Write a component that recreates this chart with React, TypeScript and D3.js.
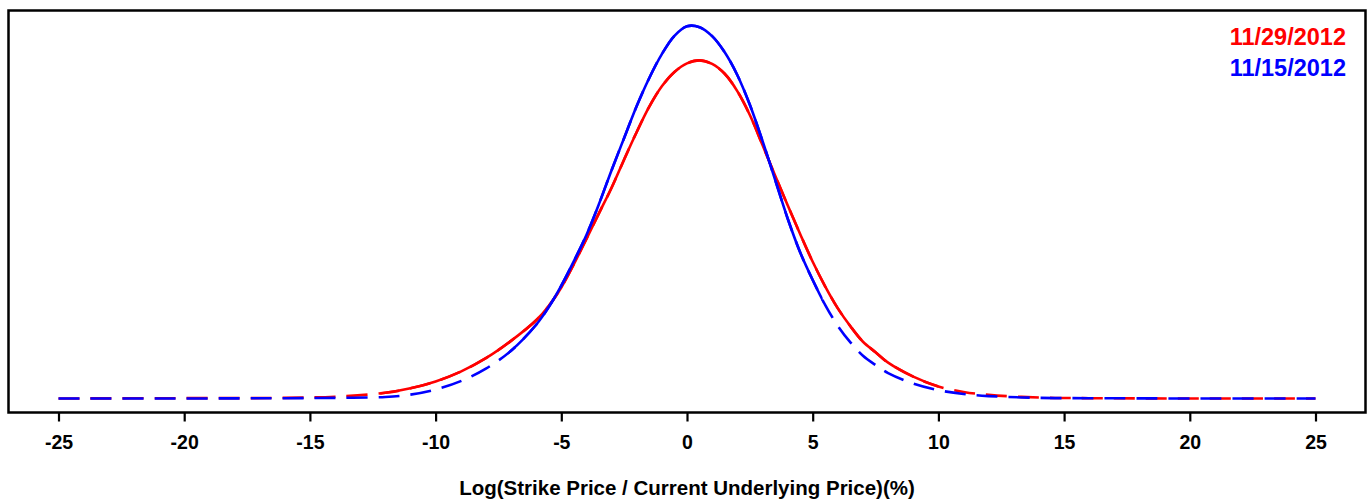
import React, { useEffect, useRef } from 'react';
import * as d3 from 'd3';

// x grid (log moneyness, %)
const xs = [-25, -20, -16, -14, -12, -11, -10, -9, -8, -7, -6, -5.5, -5, -4.5, -4, -3.5, -3, -2.5, -2, -1.5, -1, -0.5,
  0, 0.5, 1, 1.5, 2, 2.5, 3, 3.5, 4, 4.5, 5, 5.5, 6, 6.5, 7, 7.5, 8, 9, 10, 11, 12, 14, 16, 20, 25];

// implied densities
const density1129 = [0, 0.0001, 0.0002, 0.0006, 0.0019, 0.0034, 0.0057, 0.0090, 0.0135, 0.0193, 0.0262, 0.0310,
  0.0372, 0.0450, 0.0535, 0.0621, 0.0706, 0.0801, 0.0893, 0.0978, 0.1046, 0.1094,
  0.1123, 0.1133, 0.1121, 0.1088, 0.1030, 0.0950, 0.0850, 0.0748, 0.0648, 0.0551, 0.0458, 0.0375, 0.0302,
  0.0242, 0.0190, 0.0155, 0.0120, 0.0073, 0.0040, 0.0022, 0.0012, 0.0003, 0.0001, 0, 0];
const density1115 = [0, 0, 0.0001, 0.0002, 0.0005, 0.0013, 0.0030, 0.0058, 0.0100, 0.0160, 0.0247, 0.0306,
  0.0378, 0.0460, 0.0548, 0.0652, 0.0765, 0.0873, 0.0980, 0.1074, 0.1154, 0.1215,
  0.1247, 0.1244, 0.1214, 0.1160, 0.1084, 0.0984, 0.0864, 0.0734, 0.0604, 0.0490, 0.0397, 0.0313, 0.0243,
  0.0188, 0.0143, 0.0112, 0.0085, 0.0050, 0.0028, 0.0015, 0.0008, 0.0002, 0.0001, 0, 0];

// range covered by quoted strikes (solid), outside is extrapolated (dashed)
const solidRange1129 = [-12.2, 10.0];
const solidRange1115 = [-7.1, 5.4];

const seriesNames = ['11/29/2012', '11/15/2012'];
const seriesColors = ['#ff0000', '#0000ff'];
const xTicks = [-25, -20, -15, -10, -5, 0, 5, 10, 15, 20, 25];
const xTitle = 'Log(Strike Price / Current Underlying Price)(%)';

function App() {
  return (
    <div>
      <DensityChart />
    </div>
  );
}

function DensityChart() {
  const ref = useRef<HTMLDivElement>(null);

  useEffect(() => {
    if (!ref.current) return;
    const width = 1370;
    const height = 501;
    const frame = { left: 8.5, right: 1365.5, top: 10.5, bottom: 412.5 };
    const font = '"Liberation Sans", Arial, sans-serif';

    d3.select(ref.current).select('svg').remove();

    const svg = d3.select(ref.current)
      .append('svg')
      .attr('width', width)
      .attr('height', height)
      .style('position', 'absolute')
      .style('left', 0)
      .style('top', 0)
      .style('background', '#fff');

    const x = d3.scaleLinear().domain([-25, 25]).range([frame.left + 50, frame.right - 50]);
    const y = d3.scaleLinear().domain([-0.0047, 0.130]).range([frame.bottom, frame.top]);

    const series = [
      { name: seriesNames[0], color: seriesColors[0], values: density1129, solid: solidRange1129 },
      { name: seriesNames[1], color: seriesColors[1], values: density1115, solid: solidRange1115 },
    ];

    const line = d3.line<number>()
      .x((_, i) => x(xs[i]))
      .y(d => y(d))
      .curve(d3.curveCatmullRom.alpha(0.5));

    const defs = svg.append('defs');
    series.forEach((s, k) => {
      defs.append('clipPath')
        .attr('id', `solid-${k}`)
        .append('rect')
        .attr('x', x(s.solid[0]))
        .attr('y', 0)
        .attr('width', x(s.solid[1]) - x(s.solid[0]))
        .attr('height', height);
    });

    series.forEach((s, k) => {
      // dashed full curve
      svg.append('path')
        .attr('d', line(s.values))
        .attr('fill', 'none')
        .attr('stroke', s.color)
        .attr('stroke-width', 2.6)
        .attr('stroke-dasharray', '21,11');
      // solid part over the strike range
      svg.append('path')
        .attr('d', line(s.values))
        .attr('fill', 'none')
        .attr('stroke', s.color)
        .attr('stroke-width', 2.6)
        .attr('clip-path', `url(#solid-${k})`);
    });

    // frame
    svg.append('rect')
      .attr('x', frame.left)
      .attr('y', frame.top)
      .attr('width', frame.right - frame.left)
      .attr('height', frame.bottom - frame.top)
      .attr('fill', 'none')
      .attr('stroke', '#000')
      .attr('stroke-width', 2.5);

    // x axis
    const ax = svg.append('g')
      .attr('transform', `translate(0,${frame.bottom})`)
      .call(d3.axisBottom(x).tickValues(xTicks).tickSize(9).tickSizeOuter(0).tickPadding(14)
        .tickFormat(d => String(d)));
    ax.select('.domain').remove();
    ax.selectAll('line').attr('stroke', '#000').attr('stroke-width', 2.2);
    ax.selectAll('text')
      .attr('fill', '#000')
      .style('font-family', font)
      .style('font-weight', 'bold')
      .style('font-size', '19.5px');

    svg.append('text')
      .attr('x', (frame.left + frame.right) / 2)
      .attr('y', 495)
      .attr('text-anchor', 'middle')
      .style('font-family', font)
      .style('font-weight', 'bold')
      .style('font-size', '20.5px')
      .text(xTitle);

    // legend
    series.forEach((s, k) => {
      svg.append('text')
        .attr('x', 1346)
        .attr('y', 45 + k * 31)
        .attr('text-anchor', 'end')
        .attr('fill', s.color)
        .style('font-family', font)
        .style('font-weight', 'bold')
        .style('font-size', '23.5px')
        .text(s.name);
    });
  }, []);

  return <div ref={ref} />;
}

export default App;
